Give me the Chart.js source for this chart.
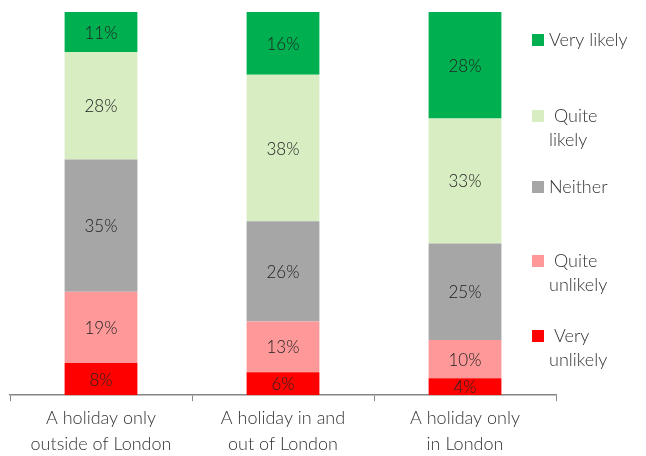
<!DOCTYPE html>
<html>
<head>
<meta charset="utf-8">
<script src="https://cdn.jsdelivr.net/npm/chart.js@4/dist/chart.umd.min.js"></script>
<style>
  html, body { margin: 0; padding: 0; background: #fff; }
  #wrap { width: 646px; height: 456px; }
</style>
</head>
<body>
<div id="wrap"><canvas id="holidayChart" width="646" height="456"></canvas></div>
<script>
// categories and series (percent of respondents)
const categories = [
    ['A holiday only', 'outside of London'],
    ['A holiday in and', 'out of London'],
    ['A holiday only', 'in London'],
];
const veryUnlikely = [8.4, 6.0, 4.4];
const quiteUnlikely = [18.6, 13.2, 10.0];
const neither = [34.5, 26.2, 25.2];
const quiteLikely = [28.0, 38.2, 32.6];
const veryLikely = [10.5, 16.4, 27.8];
const seriesNames = [['Very', 'unlikely'], ['Quite', 'unlikely'], ['Neither'], ['Quite', 'likely'], ['Very likely']];

const colors = {
    veryUnlikely: '#FF0000',
    quiteUnlikely: '#FF9999',
    neither: '#A6A6A6',
    quiteLikely: '#D8EDC2',
    veryLikely: '#00B050',
};

const FONT = 'Lato, "Open Sans", sans-serif';

// percentage labels inside each bar segment
const segmentLabels = {
    id: 'segmentLabels',
    afterDatasetsDraw(chart) {
        const ctx = chart.ctx;
        ctx.save();
        ctx.font = '300 17px ' + FONT;
        ctx.fillStyle = '#222';
        ctx.textAlign = 'center';
        ctx.textBaseline = 'middle';
        chart.data.datasets.forEach((ds, i) => {
            chart.getDatasetMeta(i).data.forEach((bar, j) => {
                const mid = (bar.y + bar.base) / 2;
                ctx.fillText(Math.round(ds.data[j]) + '%', bar.x, mid + 1);
            });
        });
        ctx.restore();
    }
};

// legend on the right, top item = top of the stack
const sideLegend = {
    id: 'sideLegend',
    afterDraw(chart) {
        const ctx = chart.ctx;
        const area = chart.chartArea;
        const sets = chart.data.datasets.slice().reverse();
        const ys = [40, 116, 187, 261, 336];
        ctx.save();
        ctx.font = '300 18px ' + FONT;
        ctx.textBaseline = 'middle';
        ctx.textAlign = 'left';
        sets.forEach((ds, i) => {
            const y = ys[i];
            ctx.fillStyle = ds.backgroundColor;
            ctx.fillRect(area.right - 24, y - 6, 12, 12);
            ctx.fillStyle = '#333';
            const lines = ds.legendLines;
            lines.forEach((line, k) => {
                // first line of a wrapped label keeps its leading space
                const x = (lines.length > 1 && k === 0) ? area.right - 2 : area.right - 7;
                ctx.fillText(line, x, y + k * 24);
            });
        });
        ctx.restore();
    }
};

new Chart(document.getElementById('holidayChart').getContext('2d'), {
    type: 'bar',
    data: {
        labels: categories,
        datasets: [
            { label: 'Very unlikely', legendLines: seriesNames[0], data: veryUnlikely, backgroundColor: colors.veryUnlikely },
            { label: 'Quite unlikely', legendLines: seriesNames[1], data: quiteUnlikely, backgroundColor: colors.quiteUnlikely },
            { label: 'Neither', legendLines: seriesNames[2], data: neither, backgroundColor: colors.neither },
            { label: 'Quite likely', legendLines: seriesNames[3], data: quiteLikely, backgroundColor: colors.quiteLikely },
            { label: 'Very likely', legendLines: seriesNames[4], data: veryLikely, backgroundColor: colors.veryLikely },
        ],
    },
    options: {
        responsive: false,
        animation: false,
        layout: { padding: { left: 10, right: 90, top: 12, bottom: -5 } },
        datasets: { bar: { barPercentage: 0.4, categoryPercentage: 1 } },
        plugins: {
            legend: { display: false },
            tooltip: { enabled: false },
        },
        scales: {
            x: {
                stacked: true,
                grid: { drawOnChartArea: false, color: '#868686', tickLength: 6, offset: true },
                border: { color: '#868686', width: 1.5 },
                ticks: { color: '#333', font: { family: FONT, size: 18, weight: '300', lineHeight: 1.44 }, padding: 4, maxRotation: 0 },
            },
            y: {
                stacked: true,
                display: false,
                min: 0,
                max: 100,
            },
        },
    },
    plugins: [segmentLabels, sideLegend],
});
</script>
</body>
</html>
